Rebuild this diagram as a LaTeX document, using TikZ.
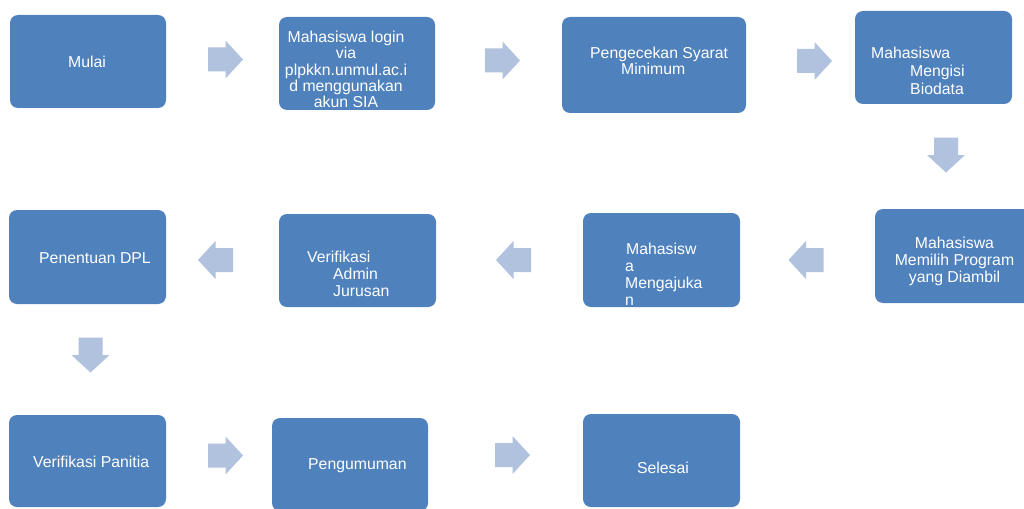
\documentclass[tikz,border=0pt]{standalone}
\usepackage{fontspec}
\setmainfont{Liberation Sans}
\definecolor{boxblue}{RGB}{79,129,189}
\definecolor{arrblue}{RGB}{176,194,222}
\begin{document}
\begin{tikzpicture}[x=1pt,y=1pt,
  box/.style={fill=boxblue, rounded corners=8pt, inner sep=0pt, outer sep=0pt},
  lbl/.style={text=white, inner sep=0pt, font=\fontsize{15.8}{16.5}\selectfont},
  blockarrow/.pic={\fill[arrblue] (-17.5,-12) -- (0,-12) -- (0,-19) -- (17.5,0) -- (0,19) -- (0,12) -- (-17.5,12) -- cycle;}]
\fill[white] (0,0) rectangle (1024,-508);
\useasboundingbox (0,0) rectangle (1024,-508);

% boxes
\node[box, minimum width=156pt, minimum height=93pt] (b1)  at (88,-61.5) {};
\node[box, minimum width=156pt, minimum height=93pt] (b2)  at (357,-63.5) {};
\node[box, minimum width=184pt, minimum height=96pt] (b3)  at (654,-65) {};
\node[box, minimum width=157pt, minimum height=93pt] (b4)  at (933.5,-57.5) {};
\node[box, minimum width=157pt, minimum height=94pt] (b5)  at (953.5,-256) {};
\node[box, minimum width=157pt, minimum height=94pt] (b6)  at (661.5,-260) {};
\node[box, minimum width=157pt, minimum height=93pt] (b7)  at (357.5,-260.5) {};
\node[box, minimum width=157pt, minimum height=94pt] (b8)  at (87.5,-257) {};
\node[box, minimum width=157pt, minimum height=92pt] (b9)  at (87.5,-461) {};
\node[box, minimum width=156pt, minimum height=93pt] (b10) at (350,-464.5) {};
\node[box, minimum width=157pt, minimum height=93pt] (b11) at (661.5,-460.5) {};

% labels
\node[lbl] (t1) at (87,-62) {Mulai};
\node[lbl, align=center, font=\fontsize{15.8}{16.3}\selectfont] (t2) at (346,-69.5)
  {Mahasiswa login\\via\\plpkkn.unmul.ac.i\\d menggunakan\\akun SIA};
\node[lbl, align=left, anchor=west] (t3) at (590,-61)
  {Pengecekan Syarat\\\hspace*{31pt}Minimum};
\node[lbl, align=left, anchor=west, font=\fontsize{15.8}{18}\selectfont] (t4) at (871,-71)
  {Mahasiswa\\\hspace*{39pt}Mengisi\\\hspace*{39pt}Biodata};
\node[lbl, align=center, font=\fontsize{15.8}{17}\selectfont] (t5) at (954.5,-261)
  {Mahasiswa\\Memilih Program\\yang Diambil};
\node[lbl, align=left, anchor=west, font=\fontsize{15.8}{17}\selectfont] (t6) at (625,-274)
  {\hspace*{1pt}Mahasisw\\a\\Mengajuka\\n};
\node[lbl, align=left, anchor=west, font=\fontsize{15.8}{17}\selectfont] (t7) at (307,-273.5)
  {Verifikasi\\\hspace*{26pt}Admin\\\hspace*{26pt}Jurusan};
\node[lbl, anchor=west] (t8) at (39,-258) {Penentuan DPL};
\node[lbl, anchor=west] (t9) at (33,-462) {Verifikasi Panitia};
\node[lbl, anchor=west] (t10) at (308,-466) {Pengumuman};
\node[lbl] (t11) at (663,-468) {Selesai};

% block arrows
\pic (a1) at (225.5,-59.5) {blockarrow};
\pic (a2) at (502.5,-60.5) {blockarrow};
\pic (a3) at (814.5,-61) {blockarrow};
\pic[rotate=-90] (a4) at (946,-155) {blockarrow};
\pic[rotate=180] (a5) at (806,-260) {blockarrow};
\pic[rotate=180] (a6) at (513.5,-260) {blockarrow};
\pic[rotate=180] (a7) at (215.5,-260) {blockarrow};
\pic[rotate=-90] (a8) at (90.5,-355) {blockarrow};
\pic (a9) at (225.5,-455.5) {blockarrow};
\pic (a10) at (512.5,-455) {blockarrow};
\end{tikzpicture}
\end{document}
